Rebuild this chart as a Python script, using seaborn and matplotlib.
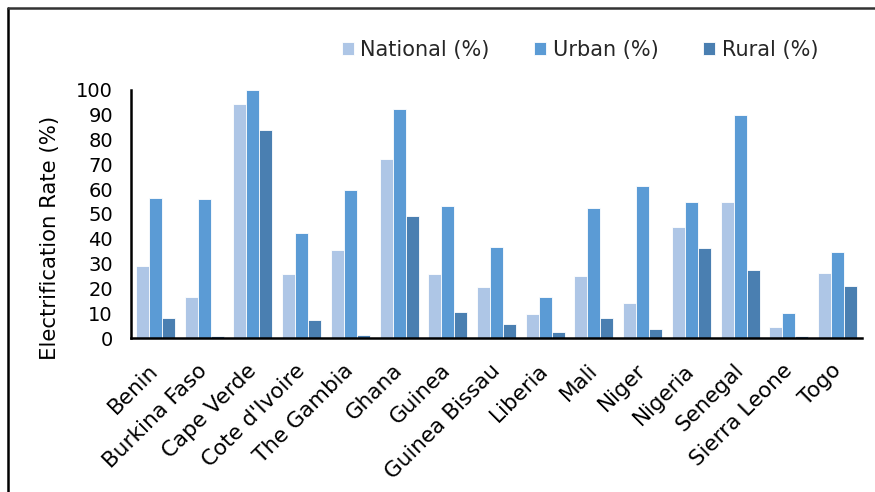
import matplotlib
matplotlib.use("Agg")
import matplotlib.pyplot as plt
from matplotlib.lines import Line2D
from matplotlib.transforms import ScaledTranslation
import seaborn as sns
import pandas as pd

countries = ["Benin", "Burkina Faso", "Cape Verde", "Cote d'Ivoire", "The Gambia",
             "Ghana", "Guinea", "Guinea Bissau", "Liberia", "Mali", "Niger",
             "Nigeria", "Senegal", "Sierra Leone", "Togo"]
national = [28.8, 16.4, 94.2, 25.6, 35.3, 72.0, 25.6, 20.5, 9.5, 25.1, 14.1, 44.9, 54.6, 4.4, 26.1]
urban = [56.4, 55.9, 100.0, 42.2, 59.7, 92.2, 53.2, 36.6, 16.4, 52.3, 61.4, 54.6, 89.7, 9.9, 34.7]
rural = [8.0, 0.8, 83.6, 7.2, 1.2, 49.1, 10.5, 5.8, 2.5, 8.0, 3.6, 36.1, 27.3, 0.8, 20.9]
series_names = ["National (%)", "Urban (%)", "Rural (%)"]
colors = ["#AEC6E6", "#5B9BD5", "#4A7FB1"]

rows = []
for name, vals in zip(series_names, [national, urban, rural]):
    for c, v in zip(countries, vals):
        rows.append({"Country": c, "Series": name, "Value": v})
df = pd.DataFrame(rows)

sns.set_theme(style="white")
plt.rcParams["font.family"] = ["DejaVu Sans"]

fig = plt.figure(figsize=(8.75, 4.92), dpi=100)
ax = fig.add_axes([131 / 875, 1 - 338 / 492, (862 - 131) / 875, (338 - 89.7) / 492])

sns.barplot(data=df, x="Country", y="Value", hue="Series", order=countries,
            hue_order=series_names, palette=colors, saturation=1, width=0.8, ax=ax,
            edgecolor="white", linewidth=0.6, errorbar=None)

ax.set_ylim(0, 100)
ax.set_yticks(range(0, 101, 10))
ax.set_xlim(-0.5, len(countries) - 0.5)
ax.set_xlabel("")
ax.set_ylabel("Electrification Rate (%)", fontsize=15.3, color="black")
ax.yaxis.set_label_coords((60 - 131) / 731, (338 - 237.5) / 248.3)
ax.tick_params(axis="y", labelsize=14, length=0, pad=13, colors="black")
ax.tick_params(axis="x", labelsize=15.5, length=0, pad=16, colors="black")
offset = ScaledTranslation(-7 / 100, 0, fig.dpi_scale_trans)
for lab in ax.get_xticklabels():
    lab.set_rotation(45)
    lab.set_ha("right")
    lab.set_rotation_mode("anchor")
    lab.set_transform(lab.get_transform() + offset)
for s in ["top", "right"]:
    ax.spines[s].set_visible(False)
for s in ["left", "bottom"]:
    ax.spines[s].set_color("black")
    ax.spines[s].set_linewidth(1.8)

ax.legend(loc="center", bbox_to_anchor=(580 / 875, 1 - 50 / 492),
          bbox_transform=fig.transFigure, ncol=3, frameon=False,
          fontsize=15, handlelength=0.58, handleheight=0.58,
          handletextpad=0.3, columnspacing=2.15, borderpad=0)

fig.add_artist(Line2D([8 / 875, 8 / 875], [0, 1 - 8 / 492], transform=fig.transFigure,
                      color="black", linewidth=1.8))
fig.add_artist(Line2D([8 / 875, 1], [1 - 8 / 492, 1 - 8 / 492], transform=fig.transFigure,
                      color="#333333", linewidth=1.8))

fig.savefig("out.png", dpi=100)
